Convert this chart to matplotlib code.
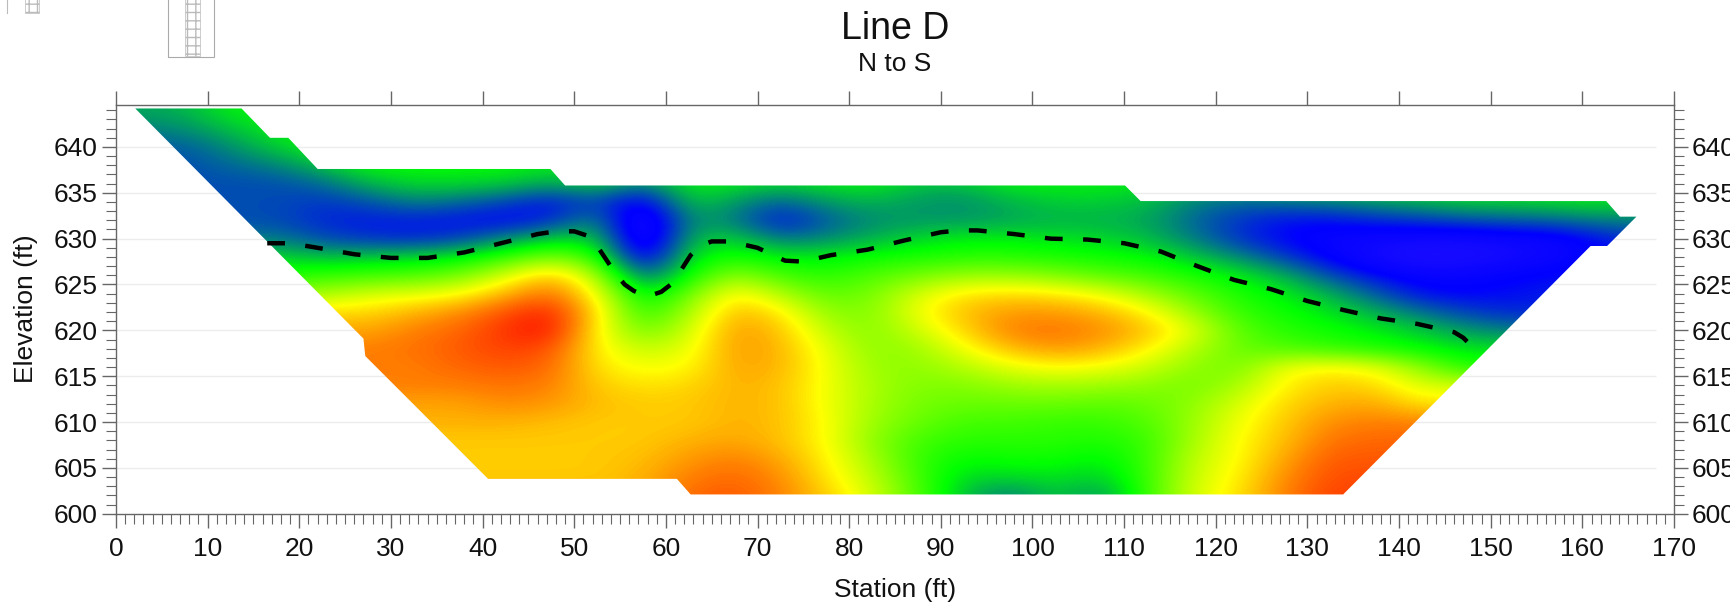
import matplotlib
matplotlib.use("Agg")
import matplotlib.pyplot as plt
from matplotlib.colors import LinearSegmentedColormap
from matplotlib.patches import Polygon, Rectangle
from matplotlib.lines import Line2D

plt.rcParams['font.family'] = ['Liberation Sans', 'DejaVu Sans']

W, H = 1731, 606

# section grid, read by eye: 0 violet, 1 blue, 2 green, 3 yellow, 4 red
# columns sit at stations 2.5, 7.5 ... 167.5; cells off the section repeat the edge value
stations = [2.5 + 5 * i for i in range(34)]
elevations = list(range(644, 600, -2))
rows = [
    [1.65, 1.7, 1.95] + [2.0] * 31,
    [1.5, 1.55, 1.75, 1.95] + [2.0] * 30,
    [1.35, 1.35, 1.55, 1.8] + [2.0] * 30,
    [1.3, 1.3, 1.4, 1.5, 1.75, 2.0, 2.0, 2.0, 2.0, 1.9, 1.9, 1.9] + [2.0] * 22,
    [1.3, 1.3, 1.3, 1.3, 1.4, 1.7, 1.85, 1.85, 1.8, 1.65, 1.85, 1.45, 1.95, 1.9, 1.8, 1.9, 1.95, 1.75, 1.75, 1.95, 1.95, 1.95, 1.9, 1.75, 1.75, 1.85, 1.9, 1.95, 1.95, 1.95, 2.0, 2.0, 2.0, 2.0],
    [1.3, 1.3, 1.3, 1.3, 1.2, 1.3, 1.5, 1.4, 1.25, 1.05, 1.3, 0.85, 1.8, 1.6, 1.35, 1.6, 1.7, 1.6, 1.55, 1.7, 1.8, 1.8, 1.75, 1.5, 1.4, 1.45, 1.5, 1.6, 1.7, 1.8, 1.8, 1.85, 1.9, 1.8],
    [1.35, 1.35, 1.3, 1.3, 1.15, 1.1, 1.1, 1.05, 1.0, 1.15, 1.6, 0.5, 1.6, 1.5, 1.05, 1.35, 1.55, 1.6, 1.6, 1.65, 1.7, 1.7, 1.65, 1.4, 1.2, 1.05, 1.05, 1.15, 1.2, 1.3, 1.35, 1.4, 1.5, 1.5],
    [1.45, 1.45, 1.45, 1.5, 1.3, 1.2, 1.15, 1.25, 1.55, 1.8, 1.85, 0.5, 1.7, 1.85, 1.45, 1.55, 1.7, 1.85, 1.95, 1.95, 1.9, 1.85, 1.75, 1.5, 1.2, 1.0, 0.85, 0.8, 0.75, 0.75, 0.8, 0.85, 1.1, 1.2],
    [1.9, 1.9, 1.9, 1.85, 1.75, 1.8, 1.85, 1.95, 2.2, 2.5, 2.2, 0.75, 1.9, 2.1, 1.95, 1.95, 2.05, 2.1, 2.15, 2.15, 2.1, 2.05, 2.0, 1.8, 1.55, 1.25, 0.95, 0.7, 0.55, 0.6, 0.7, 0.85, 1.0, 1.0],
    [2.1, 2.1, 2.1, 2.1, 2.2, 2.25, 2.3, 2.45, 2.85, 3.3, 2.7, 1.3, 2.05, 2.6, 2.25, 2.15, 2.3, 2.45, 2.6, 2.6, 2.5, 2.35, 2.25, 2.1, 1.95, 1.7, 1.3, 1.05, 0.9, 0.9, 1.0, 1.05, 1.1, 1.1],
    [2.6, 2.6, 2.6, 2.6, 2.65, 2.85, 2.9, 3.0, 3.3, 3.6, 3.0, 1.85, 2.4, 3.1, 2.7, 2.35, 2.45, 2.85, 3.1, 3.15, 3.1, 2.95, 2.65, 2.35, 2.1, 1.95, 1.7, 1.35, 1.05, 1.0, 1.05, 1.1, 1.1, 1.1],
    [3.15] * 5 + [3.15, 3.3, 3.45, 3.7, 3.9, 3.15, 2.1, 2.65, 3.3, 3.1, 2.55, 2.5, 2.95, 3.25, 3.4, 3.4, 3.3, 3.05, 2.6, 2.2, 2.05, 1.9, 1.7, 1.45, 1.25, 1.15] + [1.15] * 3,
    [3.35] * 5 + [3.35, 3.5, 3.6, 3.8, 3.95, 3.05, 2.4, 2.8, 3.4, 3.25, 2.75, 2.5, 2.8, 3.15, 3.5, 3.55, 3.45, 3.25, 2.9, 2.35, 2.15, 2.05, 1.95, 1.8, 1.6, 1.5] + [1.5] * 3,
    [3.5] * 5 + [3.5, 3.55, 3.65, 3.75, 3.7, 3.05, 2.75, 2.9, 3.4, 3.3, 2.9, 2.55, 2.6, 2.95, 3.25, 3.4, 3.3, 3.05, 2.7, 2.4, 2.3, 2.2, 2.1, 2.0, 1.9] + [1.9] * 4,
    [3.5] * 6 + [3.5, 3.6, 3.65, 3.6, 3.1, 2.95, 3.0, 3.35, 3.3, 2.95, 2.6, 2.55, 2.7, 2.9, 3.0, 2.95, 2.8, 2.55, 2.45, 2.95, 3.05, 2.95, 2.55, 2.1] + [2.1] * 4,
    [3.5] * 7 + [3.5, 3.55, 3.5, 3.2, 3.1, 3.15, 3.3, 3.25, 2.95, 2.65, 2.5, 2.5, 2.6, 2.65, 2.6, 2.55, 2.45, 2.65, 3.05, 3.2, 3.15, 2.85] + [2.85] * 5,
    [3.35] * 7 + [3.35, 3.45, 3.4, 3.25, 3.2, 3.2, 3.3, 3.25, 2.95, 2.65, 2.45, 2.4, 2.4, 2.4, 2.35, 2.4, 2.55, 2.85, 3.15, 3.3, 3.35, 3.1] + [3.1] * 5,
    [3.3] * 8 + [3.3, 3.25, 3.2, 3.2, 3.2, 3.3, 3.25, 3.0, 2.6, 2.4, 2.25, 2.25, 2.2, 2.2, 2.3, 2.6, 2.95, 3.2, 3.45, 3.5] + [3.5] * 6,
    [3.2] * 8 + [3.2, 3.2, 3.2, 3.2, 3.3, 3.35, 3.25, 3.0, 2.55, 2.25, 2.15, 2.15, 2.15, 2.1, 2.2, 2.65, 3.0, 3.25, 3.55, 3.6] + [3.6] * 6,
    [3.2] * 9 + [3.2, 3.2, 3.25, 3.4, 3.5, 3.35, 3.05, 2.65, 2.2, 2.0, 2.05, 2.05, 1.95, 2.2, 2.75, 3.0, 3.35, 3.65] + [3.65] * 7,
    [3.2] * 9 + [3.2, 3.2, 3.3, 3.5, 3.6, 3.45, 3.1, 2.75, 2.25, 1.85, 1.85, 1.9, 1.8, 2.2, 2.8, 3.05, 3.45, 3.7] + [3.7] * 7,
    [3.3] * 12 + [3.6, 3.65, 3.5, 3.2, 2.85, 2.3, 1.75, 1.45, 1.8, 1.55, 2.2, 2.85, 3.1, 3.5, 3.75] + [3.75] * 7,
]

# outline of the inverted section
outline_st = [2.1, 13.7, 16.8, 18.8, 22, 47.4, 49, 110.1, 111.8, 162.6, 164.1, 165.9, 162.7, 160.9, 133.9, 62.7, 61.2, 40.6, 27.2, 27]
outline_el = [644.2, 644.2, 641, 641, 637.6, 637.6, 635.8, 635.8, 634.1, 634.1, 632.4, 632.4, 629.2, 629.2, 602.1, 602.1, 603.8, 603.8, 617.2, 619.1]

# dashed interface
line_st = [16.5, 19, 22, 26, 30, 34, 38, 42, 46, 48, 50, 51.5, 52.3, 53.3, 54.5, 55.5, 56.5, 58, 59.5, 60.8, 61.8, 62.7, 63.7, 65, 67, 70, 73, 75, 78, 82, 86, 90, 92, 94, 96, 98, 102, 106, 110, 114, 118, 122, 126, 130, 134, 138, 142, 146, 147, 148]
line_el = [629.5, 629.5, 629, 628.3, 627.9, 627.9, 628.5, 629.5, 630.5, 630.8, 630.8, 630.3, 629.5, 628, 626.2, 625, 624.3, 623.7, 624.2, 625.2, 626.8, 628.2, 629.2, 629.7, 629.7, 629, 627.6, 627.5, 628.2, 628.8, 629.8, 630.7, 630.9, 630.9, 630.7, 630.5, 630, 629.9, 629.5, 628.6, 627, 625.5, 624.5, 623.2, 622.2, 621.3, 620.7, 619.8, 619.2, 618.2]

cmap = LinearSegmentedColormap.from_list("section", ["#4020ff", "#0000ff", "#00ff00", "#ffff00", "#ff0000"])

fig = plt.figure(figsize=(W / 100, H / 100), dpi=100)
ax = fig.add_axes([116 / W, 1 - 513.7 / H, (1674 - 116) / W, (513.7 - 104.8) / H])

# faint grid under the image
ax.hlines(range(605, 645, 5), 0, 168, color="#ececec", lw=1, zorder=0)

im = ax.imshow(rows, cmap=cmap, vmin=0, vmax=4, origin="upper", aspect="auto",
               extent=(stations[0] - 2.5, stations[-1] + 2.5, elevations[-1] - 1, elevations[0] + 1),
               interpolation="bicubic", interpolation_stage="data", zorder=1)
im.set_clip_path(Polygon(list(zip(outline_st, outline_el)), closed=True, transform=ax.transData))

ax.plot(line_st, line_el, color="black", lw=3.2, dashes=(4, 4.6), zorder=2)

ax.set_xlim(0, 170)
ax.set_ylim(600, 644.6)

for s in ax.spines.values():
    s.set_color("#666666")
    s.set_linewidth(1)

ax.set_xticks(range(0, 180, 10))
ax.set_xticks(range(0, 171), minor=True)
ax.set_yticks(range(600, 645, 5))
ax.set_yticks(range(600, 645), minor=True)
ax.tick_params(axis="x", which="major", direction="out", length=10, width=1, color="#666666",
               top=True, labelsize=19, pad=7, labelcolor="#111111")
ax.tick_params(axis="x", which="minor", direction="out", length=7, width=0.8, color="#666666", top=False)
ax.tick_params(axis="y", which="major", direction="out", length=10, width=1, color="#666666",
               right=True, labelright=True, labelsize=19, pad=3, labelcolor="#111111")
ax.tick_params(axis="y", which="minor", direction="out", length=7, width=0.8, color="#666666", right=True)

fig.text(895 / W, 1 - 29 / H, "Line D", fontsize=27, ha="center", va="center", color="#111111")
fig.text(895 / W, 1 - 64 / H, "N to S", fontsize=19, ha="center", va="center", color="#111111")
fig.text(895 / W, 1 - 590 / H, "Station (ft)", fontsize=19, ha="center", va="center", color="#111111")
fig.text(26 / W, 1 - 309 / H, "Elevation (ft)", fontsize=19, rotation=90, ha="center", va="center", color="#111111")

# bits of the log strips cut off at the top of the page
def px_rect(x0, y0, x1, y1, **kw):
    fig.add_artist(Rectangle((x0 / W, 1 - y1 / H), (x1 - x0) / W, (y1 - y0) / H, transform=fig.transFigure, **kw))

px_rect(168, -5, 214, 57, fill=False, edgecolor="#aaaaaa", lw=0.8)
px_rect(185, -5, 200, 56, fill=False, edgecolor="#bbbbbb", lw=0.5, hatch="++")
px_rect(25, -5, 39, 13, fill=False, edgecolor="#bbbbbb", lw=0.5, hatch="++")
fig.add_artist(Line2D([7 / W, 7 / W], [1, 1 - 13 / H], color="#bbbbbb", lw=0.8))

fig.savefig("out.png", dpi=100)
